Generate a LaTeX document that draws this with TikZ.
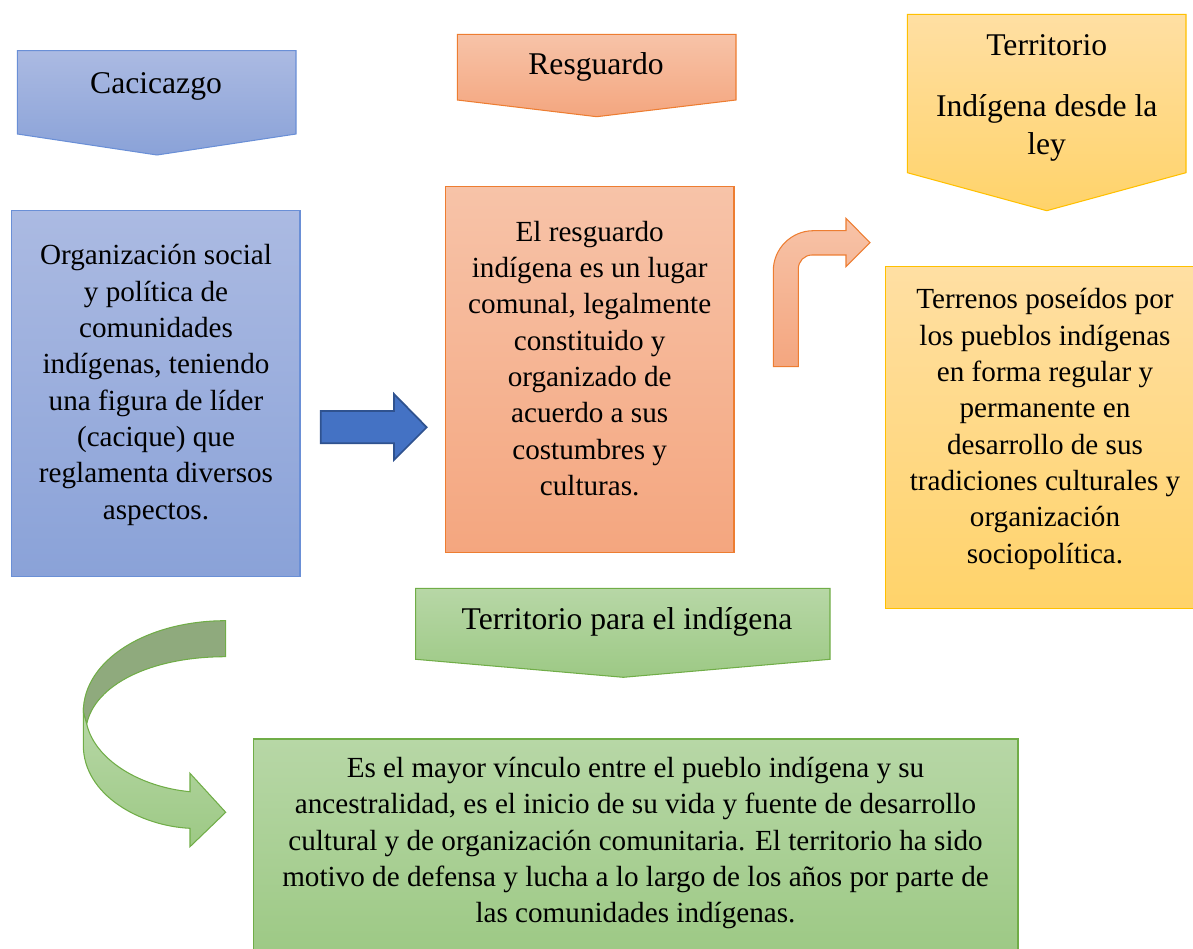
\documentclass[tikz,border=0pt]{standalone}
\usepackage{fontspec}
\setmainfont{Liberation Serif}

\definecolor{bluetop}{HTML}{ABBAE2}
\definecolor{bluebot}{HTML}{8AA2D8}
\definecolor{blueline}{HTML}{6A8FD6}
\definecolor{orangetop}{HTML}{F7C3A8}
\definecolor{orangebot}{HTML}{F4A67F}
\definecolor{orangeline}{HTML}{ED7D31}
\definecolor{yellowtop}{HTML}{FFDFA3}
\definecolor{yellowbot}{HTML}{FFD36A}
\definecolor{yellowline}{HTML}{FFC000}
\definecolor{greentop}{HTML}{B7D7A6}
\definecolor{greenbot}{HTML}{9DC985}
\definecolor{greenline}{HTML}{70AD47}
\definecolor{greendark}{HTML}{8FAA7D}
\definecolor{arrowblue}{HTML}{4472C4}
\definecolor{arrowblueline}{HTML}{2F528F}

\begin{document}
\begin{tikzpicture}[x=0.02cm, y=-0.02cm,
  hdr/.style={font=\fontsize{18}{21.5}\selectfont, align=center, inner sep=0pt},
  body/.style={font=\fontsize{16.6}{20.7}\selectfont, align=center, inner sep=0pt},
  bluebox/.style={draw=blueline, line width=0.6pt, top color=bluetop, bottom color=bluebot},
  orangebox/.style={draw=orangeline, line width=0.6pt, top color=orangetop, bottom color=orangebot},
  yellowbox/.style={draw=yellowline, line width=0.6pt, top color=yellowtop, bottom color=yellowbot},
  greenbox/.style={draw=greenline, line width=0.6pt, top color=greentop, bottom color=greenbot},
  bluearrow/.style={draw=arrowblueline, line width=1pt, fill=arrowblue}]

% Canvas
\useasboundingbox (0,0) rectangle (1193,949);
\clip (0,0) rectangle (1193,949);

% Column 1: Cacicazgo
\draw[bluebox] (17.3,50.7) -- (296,50.7) -- (296,134) -- (157,155) -- (17.3,134) -- cycle;
\node (cacicazgo) at (156,93.5) [hdr, anchor=base] {Cacicazgo};
\draw[bluebox] (11.7,210.7) rectangle (300,576.7);
\node (cacique) at (156,385) [body] {Organización social\\ y política de\\ comunidades\\ indígenas, teniendo\\ una figura de líder\\ (cacique) que\\ reglamenta diversos\\ aspectos.};

% Arrow from column 1 to column 2
\draw[bluearrow] (320.7,411) -- (394,411) -- (394,394) -- (426.7,427.3) -- (394,460) -- (394,443.3) -- (320.7,443.3) -- cycle;

% Column 2: Resguardo
\draw[orangebox] (457.3,34.3) -- (736,34.3) -- (736,100) -- (596.7,116.7) -- (457.3,100) -- cycle;
\node (resguardo) at (596,75) [hdr, anchor=base] {Resguardo};
\draw[orangebox] (445.7,186.7) rectangle (734,552.3);
\node (lugar) at (589.7,358.5) [body] {El resguardo\\ indígena es un lugar\\ comunal, legalmente\\ constituido y\\ organizado de\\ acuerdo a sus\\ costumbres y\\ culturas.};

% Bent arrow towards column 3
\draw[orangebox] (773.3,366.7) -- (773.3,270.7) .. controls (773.3,248.7) and (791.3,230.7) .. (813.3,230.7)
  -- (846,230.7) -- (846,218.3) -- (870,242.7) -- (846,266.7) -- (846,255) -- (812,255)
  .. controls (804.3,255) and (798.3,261.3) .. (798.3,269) -- (798.3,366.7) -- cycle;

% Column 3: Territorio desde la ley
\draw[yellowbox] (907.3,14.3) -- (1186,14.3) -- (1186,172.7) -- (1046.7,210.7) -- (907.3,172.7) -- cycle;
\node (ley) at (1046.7,97.5) [hdr] {Territorio\\[13.4pt] Indígena desde la\\ ley};
\draw[yellowbox] (885.7,266.7) rectangle (1197,608.3);
\node (terrenos) at (1045,429) [body] {Terrenos poseídos por\\ los pueblos indígenas\\ en forma regular y\\ permanente en\\ desarrollo de sus\\ tradiciones culturales y\\ organización\\ sociopolítica.};

% Bottom: Territorio para el indígena
\draw[greenbox] (415.7,588.3) -- (830,588.3) -- (830,659.3) -- (623.3,677.3) -- (415.7,659.3) -- cycle;
\node (territorio) at (627,629.5) [hdr, anchor=base] {Territorio para el indígena};

% Curved arrow, back and front
\draw[draw=greenline, line width=0.6pt, fill=greendark] (225.7,620.7) .. controls (147,620.7) and (83.3,660) .. (83.3,712)
  -- (86.7,724) .. controls (95,685) and (150,656.7) .. (225.7,656.7) -- cycle;
\draw[greenbox] (83.3,712) -- (83.3,745) .. controls (83.3,795) and (140,826) .. (190,828.3)
  -- (190,846.7) -- (225.7,812.3) -- (190,773.3) -- (190,791.7)
  .. controls (140,787) and (95,760) .. (86.7,724) -- cycle;

\draw[greenbox] (253.3,739) rectangle (1018,953);
\node (vinculo) at (635.5,843) [body] {Es el mayor vínculo entre el pueblo indígena y su\\ ancestralidad, es el inicio de su vida y fuente de desarrollo\\ cultural y de organización comunitaria. El territorio ha sido\\ motivo de defensa y lucha a lo largo de los años por parte de\\ las comunidades indígenas.};

\end{tikzpicture}
\end{document}
